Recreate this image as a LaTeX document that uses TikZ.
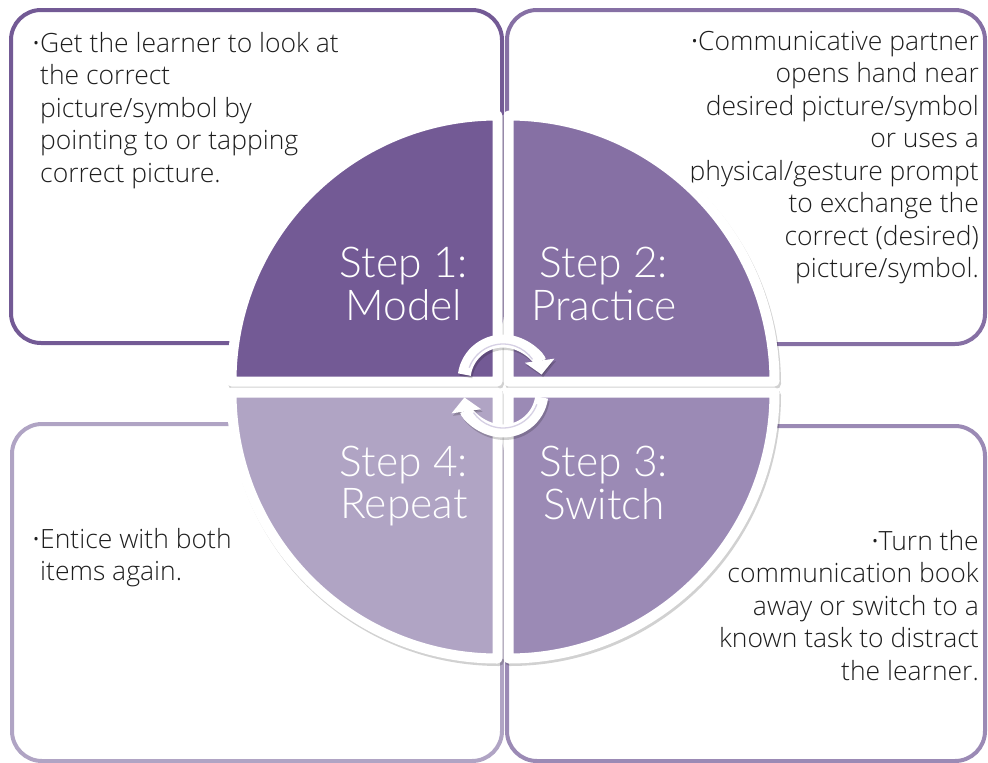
\documentclass[tikz,border=0pt]{standalone}
\usepackage{fontspec}
\IfFontExistsTF{Open Sans Light}{\setmainfont{Open Sans Light}}{\setmainfont{Open Sans}}
\IfFontExistsTF{Lato Light}{\newfontfamily\stepfont{Lato Light}}{%
  \IfFontExistsTF{Fira Sans Light}{\newfontfamily\stepfont{Fira Sans Light}}{\newfontfamily\stepfont{Lato}}}
\newfontfamily\dotfont{Open Sans}
\usetikzlibrary{arrows.meta}
\definecolor{qone}{HTML}{735A95}
\definecolor{qtwo}{HTML}{8670A4}
\definecolor{qthree}{HTML}{9B8AB5}
\definecolor{qfour}{HTML}{B0A4C4}
\definecolor{txt}{HTML}{1E1E1E}
\definecolor{arrowline}{HTML}{D6D0E4}
\newcommand{\bdot}{{\dotfont·}}
\tikzset{
  infobox/.style={line width=4pt, rounded corners=30pt},
  bodytext/.style={text=txt, inner sep=0pt, font=\fontsize{26.5}{32.5}\selectfont},
  steptext/.style={text=white, inner sep=0pt, font=\stepfont\fontsize{42.5}{42}\selectfont},
  slice/.style={draw=white, line width=10pt, line join=round},
  sliceshadow/.style={draw=black, fill=black, opacity=0.18, line width=10pt, line join=round},
  cyclearrow/.style={draw=white, line width=13pt, -{Triangle[length=14pt,width=29pt]}},
  arrowshadow/.style={draw=black, opacity=0.18, line width=13pt, -{Triangle[length=14pt,width=29pt]}},
  arrowinner/.style={draw=arrowline, line width=1.3pt},
}
\begin{document}
\begin{tikzpicture}[x=1pt,y=-1pt]
\useasboundingbox (0,0) rectangle (988,763);
% info boxes
\draw[infobox, draw=qone]   (11,10)  rectangle (502,343);
\draw[infobox, draw=qtwo]   (507,10) rectangle (985,344);
\draw[infobox, draw=qfour]  (12,424) rectangle (502,761);
\draw[infobox, draw=qthree] (507,426) rectangle (985,761);
% body texts
\node[bodytext, anchor=base west] (t1) at (40,52) {\begin{tabular}[t]{@{}l@{}}\llap{\bdot\hspace{0.5pt}}Get the learner to look at\\ the correct\\ picture/symbol by\\ pointing to or tapping\\ correct picture.\end{tabular}};
\node[bodytext, anchor=base east] (t2) at (979,50) {\begin{tabular}[t]{@{}r@{}}\bdot Communicative partner\\ opens hand near\\ desired picture/symbol\\ or uses a\\ physical/gesture prompt\\ to exchange the\\ correct (desired)\\ picture/symbol.\end{tabular}};
\node[bodytext, anchor=base west] (t4) at (40,548) {\begin{tabular}[t]{@{}l@{}}\llap{\bdot\hspace{0.5pt}}Entice with both\\ items again.\end{tabular}};
\node[bodytext, anchor=base east] (t3) at (979,550) {\begin{tabular}[t]{@{}r@{}}\bdot Turn the\\ communication book\\ away or switch to a\\ known task to distract\\ the learner.\end{tabular}};
% slice shadows
\begin{scope}[shift={(1.5,2.5)}]
\path[sliceshadow] (497.5,381.5) -- ++(-266,0) arc[start angle=180,end angle=270,radius=266] -- cycle;
\path[sliceshadow] (508.5,381.5) -- ++(0,-266) arc[start angle=270,end angle=360,radius=266] -- cycle;
\path[sliceshadow] (508.5,392.5) -- ++(266,0) arc[start angle=0,end angle=90,radius=266] -- cycle;
\path[sliceshadow] (497.5,392.5) -- ++(0,266) arc[start angle=90,end angle=180,radius=266] -- cycle;
\end{scope}
% slices
\path[slice, fill=qone]   (497.5,381.5) -- ++(-266,0) arc[start angle=180,end angle=270,radius=266] -- cycle;
\path[slice, fill=qtwo]   (508.5,381.5) -- ++(0,-266) arc[start angle=270,end angle=360,radius=266] -- cycle;
\path[slice, fill=qthree] (508.5,392.5) -- ++(266,0) arc[start angle=0,end angle=90,radius=266] -- cycle;
\path[slice, fill=qfour]  (497.5,392.5) -- ++(0,266) arc[start angle=90,end angle=180,radius=266] -- cycle;
% step labels
\node[steptext, anchor=base] (s1) at (404,277) {\begin{tabular}[t]{@{}c@{}}Step 1:\\Model\end{tabular}};
\node[steptext, anchor=base] (s2) at (604,277) {\begin{tabular}[t]{@{}c@{}}Step 2:\\Practice\end{tabular}};
\node[steptext, anchor=base] (s3) at (604,476) {\begin{tabular}[t]{@{}c@{}}Step 3:\\Switch\end{tabular}};
\node[steptext, anchor=base] (s4) at (404,476) {\begin{tabular}[t]{@{}c@{}}Step 4:\\Repeat\end{tabular}};
% cycle arrows
\coordinate (ta) at (503,380);
\coordinate (ba) at (503,392);
\draw[arrowshadow] ([shift={(1.5,2.5)}]ta) ++(-172:39) arc[start angle=-172,end angle=-8,radius=39];
\draw[arrowshadow] ([shift={(1.5,2.5)}]ba) ++(8:39) arc[start angle=8,end angle=172,radius=39];
\draw[cyclearrow] (ta) ++(-172:39) arc[start angle=-172,end angle=-8,radius=39];
\draw[cyclearrow] (ba) ++(8:39) arc[start angle=8,end angle=172,radius=39];
\draw[arrowinner] (ta) ++(-160:36) arc[start angle=-160,end angle=-35,radius=36];
\draw[arrowinner] (ba) ++(20:36) arc[start angle=20,end angle=145,radius=36];
\end{tikzpicture}
\end{document}
